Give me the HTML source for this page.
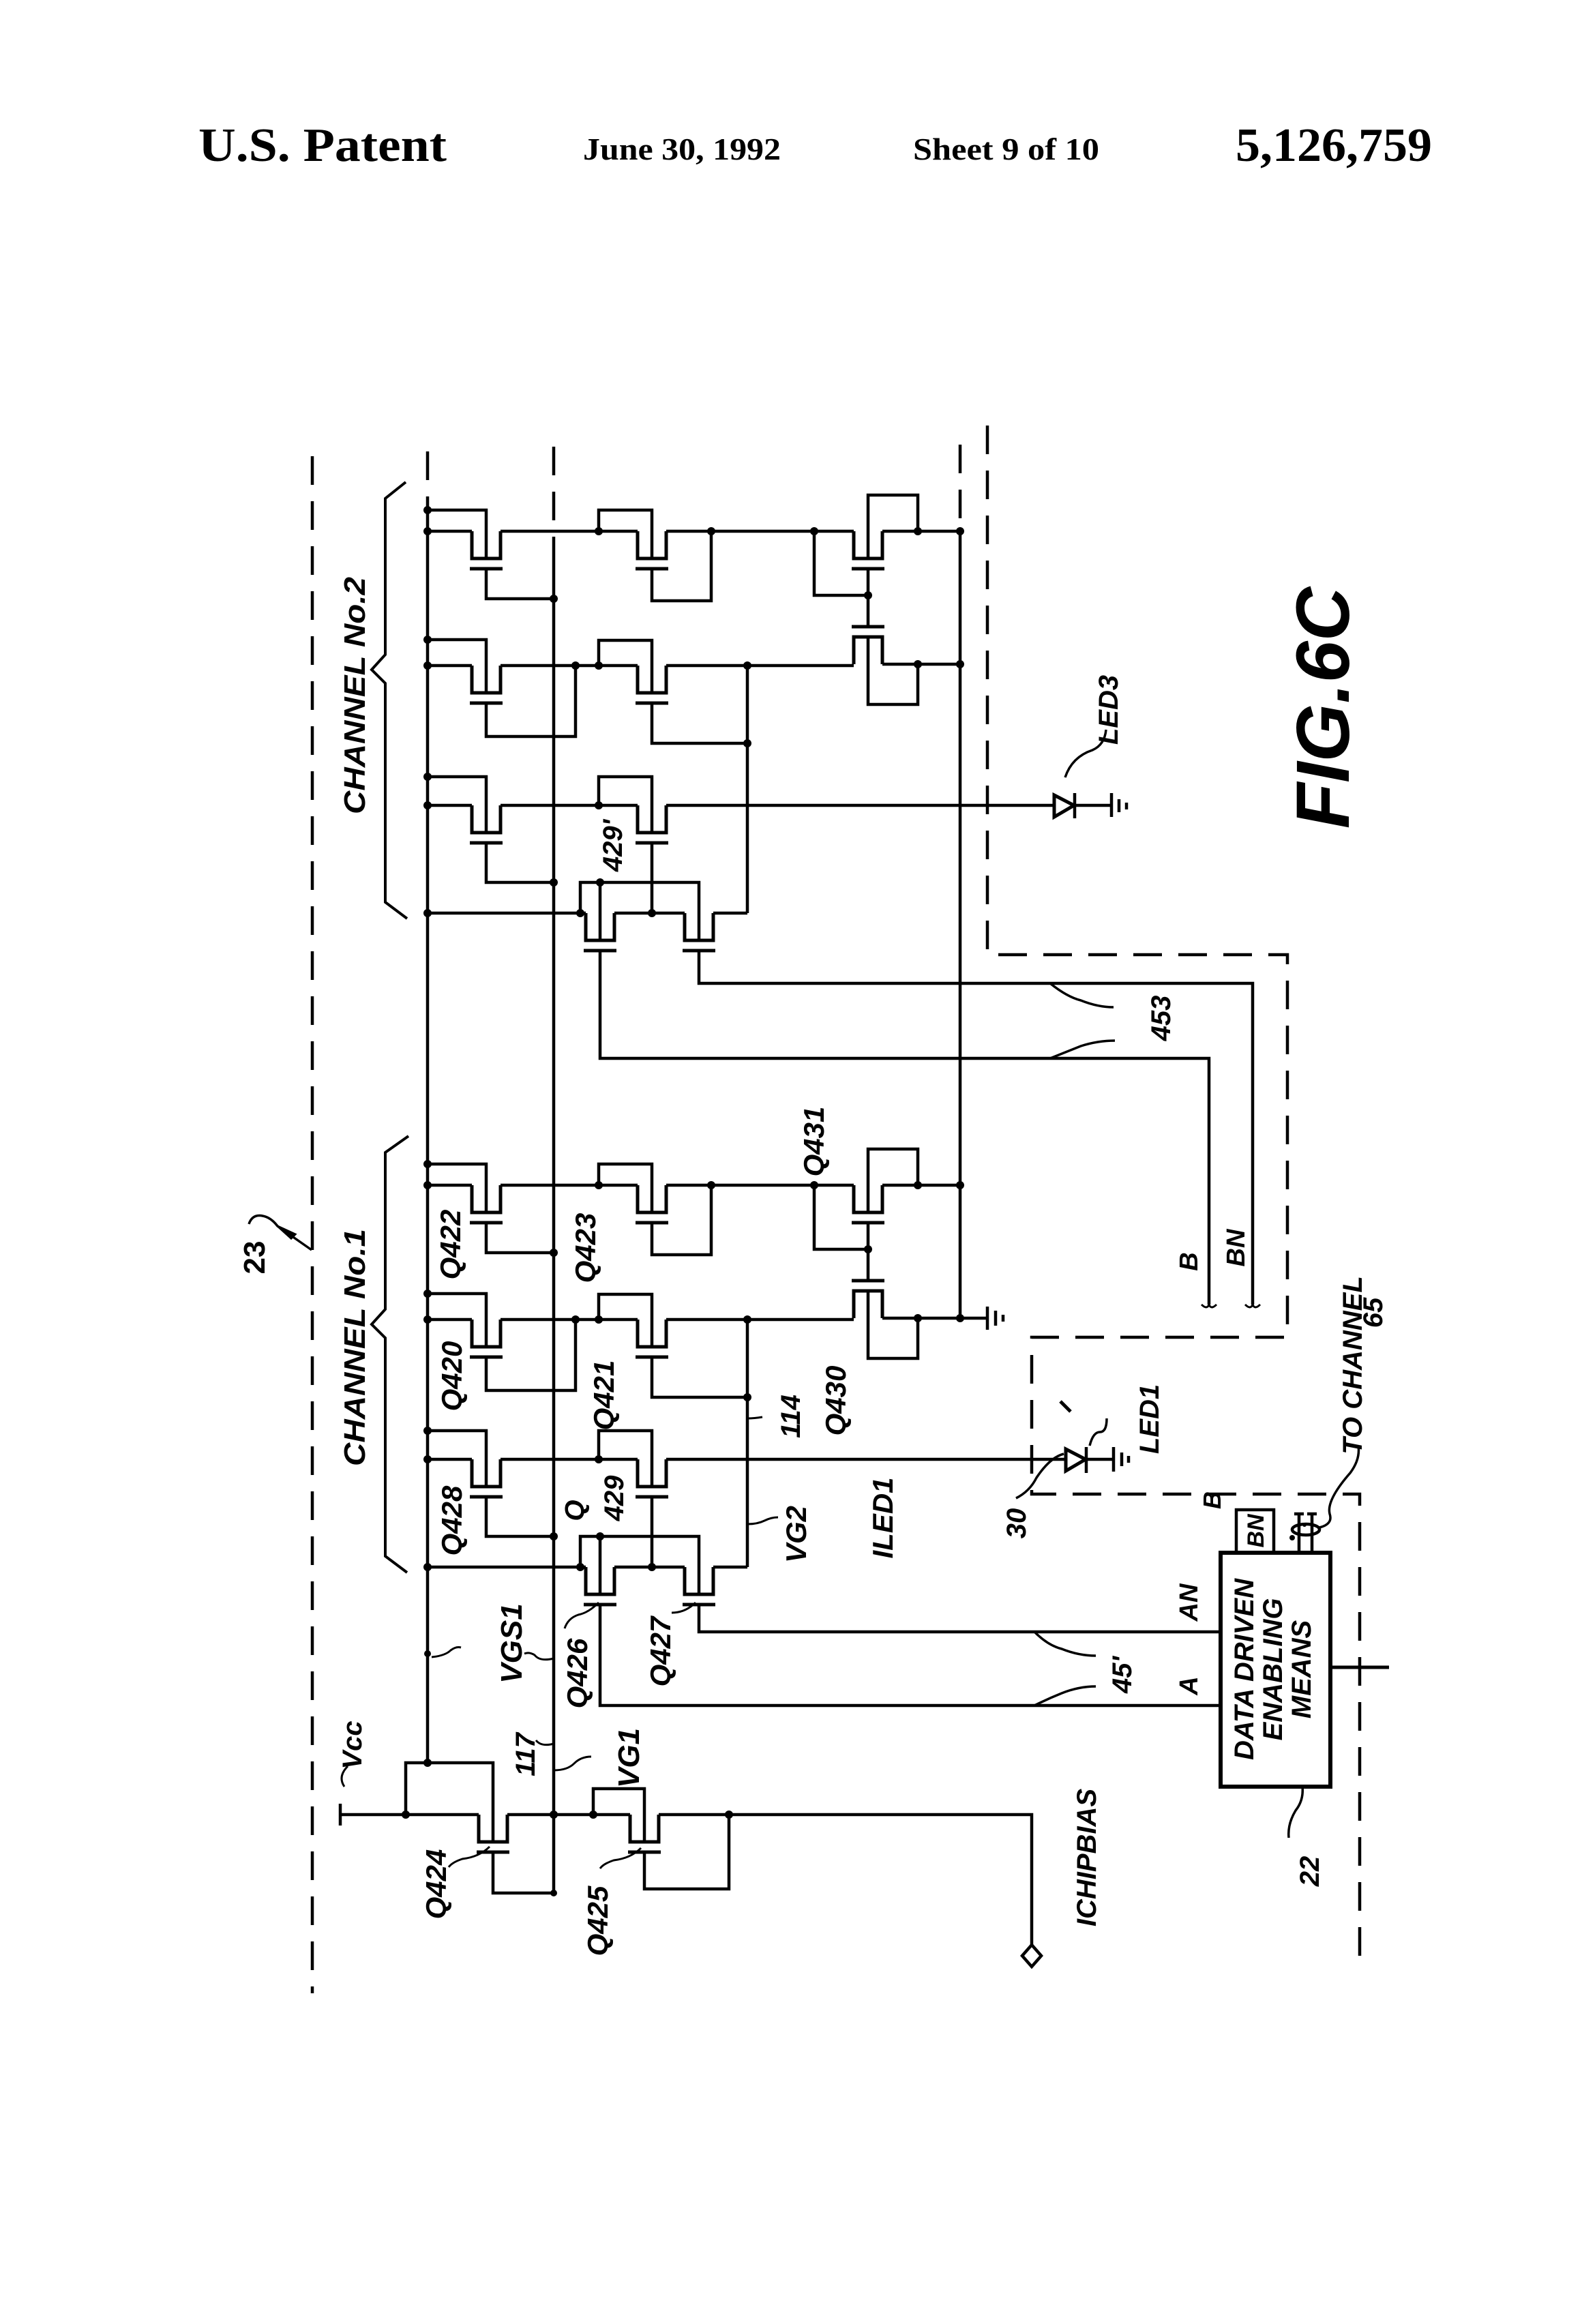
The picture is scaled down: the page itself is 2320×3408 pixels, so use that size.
<!DOCTYPE html>
<html><head><meta charset="utf-8"><style>
html,body{margin:0;padding:0;background:#fff;}
svg{display:block;}
text{font-family:"Liberation Sans",sans-serif;font-weight:bold;font-style:italic;fill:#000;}
.h{font-family:"Liberation Serif",serif;font-style:normal;}
</style></head><body>
<svg width="2320" height="3408" viewBox="0 0 2320 3408" xmlns="http://www.w3.org/2000/svg">
<defs>
<g id="tr" fill="none" stroke="#000" stroke-width="5">
<path d="M0,0 V40 H42 V0"/>
<path d="M-3,55 H45"/>
</g>
<g id="ch" fill="none" stroke="#000" stroke-width="4.5">
<path d="M627,748 H713 V819"/>
<path d="M627,779 H692"/>
<use href="#tr" x="692" y="779"/>
<path d="M734,779 H935"/>
<path d="M713,834 V878 H812"/>
<use href="#tr" x="935" y="779"/>
<path d="M878,779 V748 H956 V819"/>
<path d="M956,834 V881 H1043 V779"/>
<path d="M977,779 H1252"/>
<use href="#tr" x="1252" y="779"/>
<path d="M1273,819 V726 H1346 V779"/>
<path d="M1294,779 H1408"/>
<path d="M1273,834 V873 H1194 V779"/>
<use href="#tr" transform="translate(1252,974) scale(1,-1)"/>
<path d="M1273,873 V919"/>
<path d="M1294,974 H1408"/>
<path d="M1273,934 V1033 H1346 V974"/>
<path d="M627,938 H713 V1016"/>
<path d="M627,976 H692"/>
<use href="#tr" x="692" y="976"/>
<path d="M734,976 H935"/>
<path d="M713,1031 V1080 H844 V976"/>
<use href="#tr" x="935" y="976"/>
<path d="M878,976 V939 H956 V1016"/>
<path d="M956,1031 V1090 H1096"/>
<path d="M977,976 H1252"/>
<path d="M1096,976 V1339"/>
<path d="M627,1139 H713 V1221"/>
<path d="M627,1181 H692"/>
<use href="#tr" x="692" y="1181"/>
<path d="M734,1181 H935"/>
<path d="M713,1236 V1294 H812"/>
<use href="#tr" x="935" y="1181"/>
<path d="M878,1181 V1139 H956 V1221"/>
<path d="M956,1236 V1339"/>
<path d="M627,1339 H859"/>
<use href="#tr" x="859" y="1339"/>
<path d="M901,1339 H1004"/>
<use href="#tr" x="1004" y="1339"/>
<path d="M1046,1339 H1096"/>
<path d="M851,1339 V1294 H1025 V1379"/>
<path d="M880,1294 V1379"/>
<g fill="#000" stroke="none">
<circle cx="627" cy="748" r="6"/><circle cx="627" cy="779" r="6"/><circle cx="812" cy="878" r="6"/>
<circle cx="878" cy="779" r="6"/><circle cx="1043" cy="779" r="6"/><circle cx="1194" cy="779" r="6"/>
<circle cx="1346" cy="779" r="6"/><circle cx="1408" cy="779" r="6"/><circle cx="1273" cy="873" r="6"/>
<circle cx="1096" cy="976" r="6"/><circle cx="1346" cy="974" r="6"/><circle cx="1408" cy="974" r="6"/>
<circle cx="627" cy="938" r="6"/><circle cx="627" cy="976" r="6"/><circle cx="844" cy="976" r="6"/><circle cx="878" cy="976" r="6"/><circle cx="1096" cy="1090" r="6"/>
<circle cx="627" cy="1139" r="6"/><circle cx="627" cy="1181" r="6"/><circle cx="812" cy="1294" r="6"/><circle cx="878" cy="1181" r="6"/>
<circle cx="627" cy="1339" r="6"/><circle cx="851" cy="1339" r="6"/><circle cx="956" cy="1339" r="6"/><circle cx="880" cy="1294" r="6"/>
</g>
</g>
</defs>

<text class="h" x="291" y="236" font-size="70" textLength="364" lengthAdjust="spacingAndGlyphs">U.S. Patent</text>
<text class="h" x="855" y="234" font-size="46" textLength="290" lengthAdjust="spacingAndGlyphs">June 30, 1992</text>
<text class="h" x="1339" y="234" font-size="46" textLength="273" lengthAdjust="spacingAndGlyphs">Sheet 9 of 10</text>
<text class="h" x="1812" y="236" font-size="70" textLength="288" lengthAdjust="spacingAndGlyphs">5,126,759</text>

<g fill="none" stroke="#000" stroke-width="4.5">
<g stroke-dasharray="42 24">
<path d="M458,669 V2923"/>
<path d="M627,662 V746"/>
<path d="M812,655 V800"/>
<path d="M1408,652 V778"/>
<path d="M1448,624 V1400 H1888 V1961 H1513 V2191 H1994 V2880"/>
</g>
<path d="M627,746 V2585"/>
<path d="M812,800 V2776"/>
<path d="M1408,778 V1933"/>
<path d="M1408,1933 H1448 M1448,1916 V1950 M1460,1922 V1944 M1471,1928 V1938"/>
</g>

<use href="#ch"/>
<use href="#ch" transform="translate(0,959)"/>

<g fill="none" stroke="#000" stroke-width="4.5">
<path d="M977,1181 H1548"/>
<path d="M1576,1181 H1630 M1630,1163 V1198 M1641,1172 V1191 M1652,1177 V1187"/>
<path d="M1576,1163 V1200"/>
<path d="M880,1394 V1552 H1773 V1913"/>
<path d="M1025,1394 V1442 H1837 V1913"/>
<path d="M1762,1913 q8,8 11,0 q3,8 11,0 M1826,1913 q8,8 11,0 q3,8 11,0" stroke-width="3"/>
<path d="M977,2140 H1563"/>
<path d="M1593,2140 H1633 M1633,2122 V2158 M1645,2130 V2150 M1655,2135 V2145"/>
<path d="M1593,2122 V2160"/>
<path d="M880,2353 V2501 H1790"/>
<path d="M1025,2353 V2393 H1790"/>
<path d="M499,2645 V2677 M499,2661 H702"/>
<path d="M595,2661 V2585 H723 V2701"/>
<use href="#tr" x="702" y="2661"/>
<path d="M744,2661 H924"/>
<path d="M723,2716 V2776 H812"/>
<path d="M870,2661 V2623 H945 V2701"/>
<use href="#tr" x="924" y="2661"/>
<path d="M966,2661 H1513 V2852"/>
<path d="M945,2716 V2770 H1069 V2661"/>
<path d="M1513,2852 l14,16 l-14,16 l-14,-16 z"/>
<rect x="1790" y="2277" width="161" height="343" stroke-width="6"/>
<path d="M1951,2445 H2037" stroke-width="5"/>
<path d="M1813,2277 V2214 H1868 V2277"/>
<path d="M1905,2277 V2218 M1924,2277 V2218 M1898,2220 H1912 M1917,2220 H1931"/>
<ellipse cx="1915" cy="2243" rx="20" ry="8"/>
<path d="M1935,2240 q20,-5 15,-20 q-5,-20 30,-60 q15,-20 12,-40" stroke-width="3.5"/>
<path d="M1910,2620 q2,20 -10,35 q-12,20 -10,40" stroke-width="3.5"/>
<path d="M1562,1140 q10,-30 40,-40 q18,-8 20,-30" stroke-width="3.5"/>
<path d="M1560,2132 q-20,5 -40,35 q-10,20 -30,30" stroke-width="3.5"/>
<path d="M1598,2120 q5,-20 15,-20 q10,0 10,-20" stroke-width="3.5"/>
<path d="M1570,2070 l-15,-15" stroke-width="5"/>
<path d="M1540,1442 q25,20 45,25 q25,10 48,10" stroke-width="3.5"/>
<path d="M1540,1552 q25,-10 45,-18 q25,-8 50,-8" stroke-width="3.5"/>
<path d="M1517,2393 q20,20 40,25 q25,10 50,10" stroke-width="3.5"/>
<path d="M1517,2501 q20,-10 40,-18 q25,-10 50,-10" stroke-width="3.5"/>
<path d="M365,1795 q5,-15 20,-12 q12,2 22,15 l50,35" stroke-width="3.5"/>
<path d="M407,1798 l20,18 l6,-6 z" fill="#000" stroke-width="3"/>
<path d="M599,1666 L565,1690 V1920 L545,1942 L565,1962 V2282 L597,2306" stroke-width="4"/>
<path d="M595,707 L565,731 V960 L545,982 L565,1002 V1323 L597,1347" stroke-width="4"/>
<path d="M505,2620 q-10,-15 5,-30" stroke-width="3"/>
<path d="M633,2430 q20,-2 28,-10 q8,-6 15,-4" stroke-width="3"/>
<path d="M812,2432 q-20,5 -28,-5 q-8,-5 -15,-2" stroke-width="3"/>
<path d="M812,2557 q-18,5 -26,-5" stroke-width="3"/>
<path d="M812,2596 q20,0 30,-10 q10,-10 25,-10" stroke-width="3"/>
<path d="M718,2708 q-15,15 -40,18 q-15,5 -20,12" stroke-width="3"/>
<path d="M940,2710 q-15,15 -40,18 q-15,5 -20,12" stroke-width="3"/>
<path d="M878,2350 q-15,15 -30,18 q-15,5 -20,20" stroke-width="3"/>
<path d="M1020,2350 q-15,15 -35,15" stroke-width="3"/>
<path d="M1096,2080 q10,0 22,-2" stroke-width="3"/>
<path d="M1096,2235 q15,0 25,-5 q10,-5 20,-5" stroke-width="3"/>
</g>
<polygon points="1546,1166 1546,1198 1575,1181" fill="#fff" stroke="#000" stroke-width="5"/>
<polygon points="1563,2125 1563,2157 1592,2140" fill="#fff" stroke="#000" stroke-width="5"/>
<g fill="#000"><circle cx="1913" cy="2236" r="3"/><circle cx="1895" cy="2255" r="4"/><circle cx="627" cy="2585" r="6"/><circle cx="595" cy="2661" r="6"/><circle cx="812" cy="2661" r="6"/><circle cx="870" cy="2661" r="6"/><circle cx="1069" cy="2661" r="6"/><circle cx="627" cy="2425" r="5"/><circle cx="812" cy="2776" r="5"/></g>

<g>
<text font-size="44" transform="translate(388,1844) rotate(-90)" text-anchor="middle" style="font-style:normal">23</text>
<text font-size="44" transform="translate(535,1976) rotate(-90)" text-anchor="middle" textLength="348" lengthAdjust="spacingAndGlyphs">CHANNEL No.1</text>
<text font-size="44" transform="translate(535,1020) rotate(-90)" text-anchor="middle" textLength="348" lengthAdjust="spacingAndGlyphs">CHANNEL No.2</text>
<text font-size="42" transform="translate(675,1825) rotate(-90)" text-anchor="middle">Q422</text>
<text font-size="42" transform="translate(873,1830) rotate(-90)" text-anchor="middle">Q423</text>
<text font-size="42" transform="translate(677,2018) rotate(-90)" text-anchor="middle">Q420</text>
<text font-size="42" transform="translate(900,2046) rotate(-90)" text-anchor="middle">Q421</text>
<text font-size="42" transform="translate(677,2230) rotate(-90)" text-anchor="middle">Q428</text>
<text font-size="40" transform="translate(856,2215) rotate(-90)" text-anchor="middle">Q</text>
<text font-size="40" transform="translate(914,2197) rotate(-90)" text-anchor="middle">429</text>
<text font-size="40" transform="translate(912,1240) rotate(-90)" text-anchor="middle">429'</text>
<text font-size="40" transform="translate(1173,2077) rotate(-90)" text-anchor="middle">114</text>
<text font-size="42" transform="translate(1240,2054) rotate(-90)" text-anchor="middle">Q430</text>
<text font-size="42" transform="translate(1208,1674) rotate(-90)" text-anchor="middle">Q431</text>
<text font-size="42" transform="translate(1182,2250) rotate(-90)" text-anchor="middle">VG2</text>
<text font-size="40" transform="translate(530,2559) rotate(-90)" text-anchor="middle">Vcc</text>
<text font-size="42" transform="translate(654,2763) rotate(-90)" text-anchor="middle">Q424</text>
<text font-size="42" transform="translate(891,2817) rotate(-90)" text-anchor="middle">Q425</text>
<text font-size="44" transform="translate(765,2410) rotate(-90)" text-anchor="middle">VGS1</text>
<text font-size="40" transform="translate(784,2573) rotate(-90)" text-anchor="middle">117</text>
<text font-size="44" transform="translate(937,2578) rotate(-90)" text-anchor="middle">VG1</text>
<text font-size="42" transform="translate(861,2454) rotate(-90)" text-anchor="middle">Q426</text>
<text font-size="42" transform="translate(983,2422) rotate(-90)" text-anchor="middle">Q427</text>
<text font-size="42" transform="translate(1309,2226) rotate(-90)" text-anchor="middle">ILED1</text>
<text font-size="40" transform="translate(1504,2234) rotate(-90)" text-anchor="middle">30</text>
<text font-size="40" transform="translate(1699,2081) rotate(-90)" text-anchor="middle">LED1</text>
<text font-size="40" transform="translate(1639,1041) rotate(-90)" text-anchor="middle">LED3</text>
<text font-size="40" transform="translate(1716,1493) rotate(-90)" text-anchor="middle">453</text>
<text font-size="38" transform="translate(1756,1850) rotate(-90)" text-anchor="middle">B</text>
<text font-size="38" transform="translate(1825,1830) rotate(-90)" text-anchor="middle">BN</text>
<text font-size="38" transform="translate(1756,2350) rotate(-90)" text-anchor="middle">AN</text>
<text font-size="38" transform="translate(1756,2472) rotate(-90)" text-anchor="middle">A</text>
<text font-size="40" transform="translate(1659,2456) rotate(-90)" text-anchor="middle">45'</text>
<text font-size="36" transform="translate(1790,2200) rotate(-90)" text-anchor="middle">B</text>
<text font-size="34" transform="translate(1853,2245) rotate(-90)" text-anchor="middle">BN</text>
<text font-size="40" transform="translate(1838,2448) rotate(-90)" text-anchor="middle">DATA DRIVEN</text>
<text font-size="40" transform="translate(1880,2448) rotate(-90)" text-anchor="middle">ENABLING</text>
<text font-size="40" transform="translate(1922,2448) rotate(-90)" text-anchor="middle">MEANS</text>
<text font-size="40" transform="translate(1934,2744) rotate(-90)" text-anchor="middle">22</text>
<text font-size="40" transform="translate(1997,2002) rotate(-90)" text-anchor="middle">TO CHANNEL</text>
<text font-size="40" transform="translate(2027,1925) rotate(-90)" text-anchor="middle">65</text>
<text font-size="40" transform="translate(1607,2724) rotate(-90)" text-anchor="middle">ICHIPBIAS</text>
<text font-size="110" transform="translate(1978,1038) rotate(-90)" text-anchor="middle">FIG.6C</text>
</g>
</svg>
</body></html>
